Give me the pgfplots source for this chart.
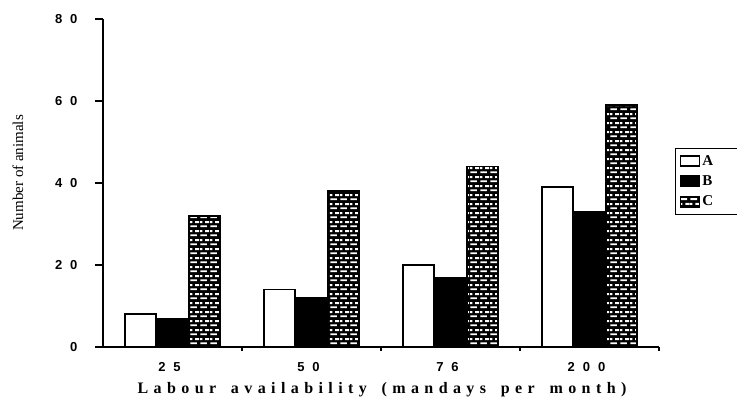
\documentclass[border=0pt]{standalone}
\usepackage{fontspec}
\setmainfont{Liberation Serif}
\setsansfont{Liberation Sans}
\usepackage{pgfplots}
\pgfplotsset{compat=1.18}
\usetikzlibrary{patterns}

% white brick dashes, laid over a black fill
\pgfdeclarepatternformonly{whitebricks}{\pgfpointorigin}{\pgfpoint{10pt}{9pt}}{\pgfpoint{10pt}{9pt}}{%
  \pgfpathrectangle{\pgfpoint{0.5pt}{1pt}}{\pgfpoint{7pt}{2pt}}%
  \pgfpathrectangle{\pgfpoint{5.5pt}{5.5pt}}{\pgfpoint{4.5pt}{2pt}}%
  \pgfpathrectangle{\pgfpoint{0pt}{5.5pt}}{\pgfpoint{2.5pt}{2pt}}%
  \pgfusepath{fill}}

% letter-spaced text; ~ marks a word space
\newcommand\spacedtext[1]{\spacedi#1\relax}
\def\spacedi#1{\ifx#1\relax\else#1\hskip 5.4pt\relax\expandafter\spacedi\fi}

\newcommand\tk{\hspace{8pt}}

\begin{document}
\begin{tikzpicture}
\begin{axis}[
  scale only axis, width=556pt, height=328pt,
  xmin=-0.5, xmax=3.5, ymin=0, ymax=80,
  axis x line=bottom, axis y line=left,
  axis line style={-, line width=1.2pt, black},
  ybar=1pt, bar width=31pt,
  xtick={0,1,2,3},
  xticklabels={2\tk5, 5\tk0, 7\tk6, 2\tk0\tk0},
  major x tick style={draw=none},
  minor xtick={0.5,1.5,2.5,3.5},
  minor tick length=4pt,
  ytick={0,20,40,60,80},
  yticklabels={0, 2\tk0, 4\tk0, 6\tk0, 8\tk0},
  tick align=outside, major tick length=8pt,
  tick style={black, line width=1.2pt},
  xticklabel style={font=\sffamily\bfseries\fontsize{13}{13}\selectfont, anchor=base, yshift=-16.5pt, xshift=-3pt},
  yticklabel style={font=\sffamily\bfseries\fontsize{13}{13}\selectfont, anchor=east, xshift=-14pt},
  legend style={at={(rel axis cs:1.029,0.607)}, anchor=north west,
    draw=black, line width=0.8pt, font=\bfseries\fontsize{15}{15}\selectfont,
    row sep=5pt, inner xsep=4pt, inner ysep=5pt, legend cell align=left},
  barlegend/.style={legend image code/.code={\draw[##1, line width=1.8pt] (0pt,-5pt) rectangle (19pt,5pt);}},
]
\addplot[draw=black, line width=1.5pt, fill=white, barlegend]
  coordinates {(0,8) (1,14) (2,20) (3,39)};
\addplot[draw=black, line width=1.5pt, fill=black, barlegend]
  coordinates {(0,7) (1,12) (2,17) (3,33)};
\addplot[draw=black, line width=1.5pt, preaction={fill=black}, pattern=whitebricks, pattern color=white, barlegend]
  coordinates {(0,32) (1,38) (2,44) (3,59)};
\addlegendentry{\makebox[45pt][l]{A}}
\addlegendentry{B}
\addlegendentry{C}

\coordinate (o) at (rel axis cs:0,0);
\end{axis}
\path (o) ++(-85pt,174pt) node[rotate=90, font=\fontsize{15}{15}\selectfont] {Number of animals};
\path (o) ++(279pt,-46pt) node[anchor=base, font=\bfseries\fontsize{16}{16}\selectfont]
  {\spacedtext{Labour~availability~(mandays~per~month)}};
\pgfresetboundingbox
\path[use as bounding box] (o) ++(-103pt,-52pt) rectangle ++(737pt,399pt);
\end{tikzpicture}
\end{document}
